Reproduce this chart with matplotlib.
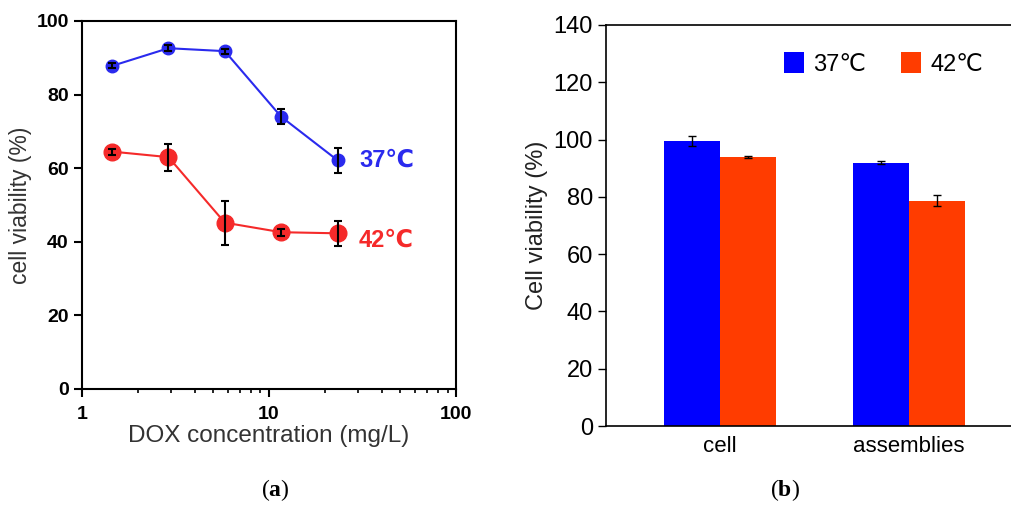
import numpy as np
import matplotlib
matplotlib.use('Agg')
import matplotlib.pyplot as plt
from matplotlib.ticker import LogLocator, NullFormatter, FixedLocator, FixedFormatter

plt.rcParams['mathtext.fontset'] = 'custom'
plt.rcParams['mathtext.rm'] = 'Liberation Serif'
plt.rcParams['mathtext.bf'] = 'Liberation Serif:bold'
SANS = ['Liberation Sans', 'DejaVu Sans', 'Noto Sans CJK JP']

# (a) DOX concentration series
dox = [1.45, 2.9, 5.8, 11.6, 23.3]
via_37 = [87.8, 92.6, 91.8, 74.0, 62.1]
err_37 = [0.7, 0.8, 0.7, 2.1, 3.4]
via_42 = [64.5, 63.0, 45.2, 42.6, 42.3]
err_42 = [0.8, 3.7, 6.0, 1.0, 3.4]

# (b) bar chart
groups = ['cell', 'assemblies']
bar_37 = [99.5, 91.9]
bar_err_37 = [1.7, 0.6]
bar_42 = [94.0, 78.6]
bar_err_42 = [0.3, 1.9]

fig = plt.figure(figsize=(10.11, 5.08), dpi=100)
fig.patch.set_facecolor('white')

# ---- panel a ----
ax1 = fig.add_axes([0.0811, 0.2343, 0.370, 0.7244])
ax1.plot(dox, via_37, '-', color='#2a2aee', lw=1.5, zorder=2)
ax1.plot(dox, via_42, '-', color='#f52a2a', lw=1.5, zorder=2)
ax1.plot(dox, via_37, 'o', color='#2a2aee', ms=9, zorder=3)
ax1.plot(dox, via_42, 'o', color='#f52a2a', ms=12, zorder=3)
ax1.errorbar(dox, via_37, yerr=err_37, fmt='none', ecolor='black',
             elinewidth=1.5, capsize=3, capthick=1.5, zorder=4)
ax1.errorbar(dox, via_42, yerr=err_42, fmt='none', ecolor='black',
             elinewidth=1.5, capsize=3, capthick=1.5, zorder=4)
ax1.set_xscale('log')
ax1.set_xlim(1, 100)
ax1.set_ylim(0, 100)
ax1.set_yticks([0, 20, 40, 60, 80, 100])
ax1.xaxis.set_major_locator(FixedLocator([1, 10, 100]))
ax1.xaxis.set_major_formatter(FixedFormatter(['1', '10', '100']))
ax1.xaxis.set_minor_locator(LogLocator(base=10, subs=np.arange(2, 10)))
ax1.xaxis.set_minor_formatter(NullFormatter())
ax1.tick_params(which='major', direction='out', length=6, width=1.5,
                labelsize=14, colors='black')
ax1.tick_params(axis='x', which='major', pad=6)
ax1.tick_params(which='minor', direction='out', length=3, width=1.2)
for lab in ax1.get_xticklabels() + ax1.get_yticklabels():
    lab.set_fontweight('bold')
    lab.set_family(SANS)
for s in ax1.spines.values():
    s.set_linewidth(1.5)
ax1.set_xlabel('DOX concentration (mg/L)', fontsize=17.5, family=SANS,
               color='#333333', labelpad=2)
ax1.set_ylabel('cell viability (%)', fontsize=16.5, family=SANS,
               color='#333333', labelpad=3)
ax1.text(30.5, 62.1, '37\u2103', color='#2a2aee', fontsize=17, fontweight='bold',
         family=SANS, va='center', ha='left')
ax1.text(30, 40.5, '42\u2103', color='#f52a2a', fontsize=17, fontweight='bold',
         family=SANS, va='center', ha='left')

# ---- panel b ----
ax2 = fig.add_axes([0.5994, 0.1614, 0.4006, 0.7894])
x = np.arange(len(groups))
w = 0.296
ax2.bar(x - w / 2, bar_37, w, color='#0000ff', label='37\u2103', zorder=2)
ax2.bar(x + w / 2, bar_42, w, color='#ff3c00', label='42\u2103', zorder=2)
ax2.errorbar(x - w / 2, bar_37, yerr=bar_err_37, fmt='none', ecolor='black',
             elinewidth=1, capsize=3, capthick=1, zorder=3)
ax2.errorbar(x + w / 2, bar_42, yerr=bar_err_42, fmt='none', ecolor='black',
             elinewidth=1, capsize=3, capthick=1, zorder=3)
ax2.set_xlim(-0.603, 1.54)
ax2.set_ylim(0, 140)
ax2.set_yticks(np.arange(0, 141, 20))
ax2.set_xticks(x)
ax2.set_xticklabels(groups)
ax2.tick_params(axis='x', length=0, labelsize=16, pad=7)
ax2.tick_params(axis='y', direction='out', length=6, width=1, labelsize=17)
for lab in ax2.get_xticklabels() + ax2.get_yticklabels():
    lab.set_family(SANS)
ax2.spines['right'].set_visible(False)
for s in ['left', 'top', 'bottom']:
    ax2.spines[s].set_linewidth(1.2)
ax2.set_ylabel('Cell viability (%)', fontsize=17, family=SANS,
               color='#222222', labelpad=4)
leg = ax2.legend(loc='upper right', bbox_to_anchor=(0.985, 0.985), ncol=2, frameon=False,
                 prop={'family': SANS, 'size': 17},
                 handlelength=0.85, handleheight=0.95, handletextpad=0.4,
                 columnspacing=1.5)

# panel labels
fig.text(0.272, 0.035, r'($\mathbf{a}$)', fontsize=17, ha='center', va='center',
         family='Liberation Serif')
fig.text(0.776, 0.035, r'($\mathbf{b}$)', fontsize=17, ha='center', va='center',
         family='Liberation Serif')

fig.savefig('out.png', dpi=100)
